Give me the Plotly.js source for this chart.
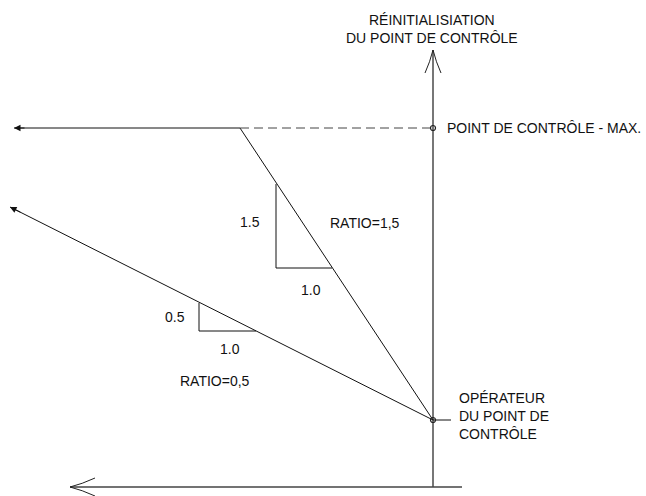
<!DOCTYPE html>
<html><head><meta charset="utf-8">
<script src="https://cdn.plot.ly/plotly-3.0.1.min.js"></script>
<style>html,body{margin:0;padding:0;background:#fff}</style>
</head><body>
<div id="chart" style="width:646px;height:496px"></div>
<script>
// Diagram coordinates: origin = "opérateur du point de contrôle", y up
const steepX = [0, -193],  steepY = [0, 292];      // RATIO=1,5
const flatX = [-193, -419], flatY = [292, 292];    // max level continuation
const dashX = [-193, 0],   dashY = [292, 292];     // dashed max level
const shallowX = [0, -423], shallowY = [0, 213];   // RATIO=0,5
const tri15X = [-157, -157, -101], tri15Y = [236, 152, 152];
const tri05X = [-234, -234, -177], tri05Y = [117, 89, 89];
const vAxisX = [0, 0], vAxisY = [-67, 370];
const hAxisX = [29, -363], hAxisY = [-67, -67];
const pointsX = [0, 0], pointsY = [0, 292];
const tickX = [0, 18], tickY = [0, 0];

const labels = [
  {x: -1, y: 391, text: 'RÉINITIALISIATION<br>DU POINT DE CONTRÔLE', xanchor: 'center'},
  {x: 12, y: 292, text: 'POINT DE CONTRÔLE - MAX.', xanchor: 'left'},
  {x: -183, y: 198, text: '1.5', xanchor: 'center'},
  {x: -122, y: 130, text: '1.0', xanchor: 'center'},
  {x: -105, y: 197, text: 'RATIO=1,5', xanchor: 'left'},
  {x: -258, y: 103, text: '0.5', xanchor: 'center'},
  {x: -203, y: 71, text: '1.0', xanchor: 'center'},
  {x: -255, y: 39, text: 'RATIO=0,5', xanchor: 'left'},
  {x: 24, y: 4, text: 'OPÉRATEUR<br>DU POINT DE<br>CONTRÔLE', xanchor: 'left'}
];

const blk = {color: '#111', width: 1};
function ln(x, y, line, extra) {
  return Object.assign({type: 'scatter', mode: 'lines', x: x, y: y, line: line, hoverinfo: 'skip', showlegend: false}, extra || {});
}
const traces = [
  ln(vAxisX, vAxisY, {color: '#777', width: 2}),
  ln(hAxisX, hAxisY, {color: '#444', width: 1.5}),
  ln(steepX, steepY, blk),
  ln(flatX, flatY, blk),
  ln(dashX, dashY, {color: '#444', width: 1, dash: '9px,5px'}),
  ln(shallowX, shallowY, blk),
  ln(tri15X, tri15Y, blk),
  ln(tri05X, tri05Y, blk),
  ln(tickX, tickY, blk),
  {type: 'scatter', mode: 'markers', x: pointsX, y: pointsY, hoverinfo: 'skip', showlegend: false,
   marker: {symbol: 'circle-open', size: 5, color: '#222', line: {width: 1.2, color: '#222'}}}
];

// open curved arrowheads at axis tips
const vt = {x: vAxisX[1], y: vAxisY[1]};
const ht = {x: hAxisX[1], y: hAxisY[1]};
const shapes = [
  {type: 'path', xref: 'x', yref: 'y', line: {color: '#222', width: 1},
   path: `M ${vt.x-8},${vt.y-23} Q ${vt.x-3},${vt.y-12} ${vt.x},${vt.y} Q ${vt.x+3},${vt.y-12} ${vt.x+8},${vt.y-23}`},
  {type: 'path', xref: 'x', yref: 'y', line: {color: '#222', width: 1},
   path: `M ${ht.x+25},${ht.y+9} Q ${ht.x+12},${ht.y+3} ${ht.x},${ht.y} Q ${ht.x+12},${ht.y-3} ${ht.x+25},${ht.y-9}`}
];

const annotations = labels.map(l => ({
  x: l.x, y: l.y, xref: 'x', yref: 'y', text: l.text, showarrow: false,
  xanchor: l.xanchor, yanchor: 'middle', align: l.xanchor === 'left' ? 'left' : 'center',
  font: {family: 'Liberation Sans, Arial, sans-serif', size: 14, color: '#111'}
}));
// small filled arrowheads at left ends
annotations.push({x: flatX[1], y: flatY[1], ax: flatX[1] + 12, ay: flatY[1], xref: 'x', yref: 'y', axref: 'x', ayref: 'y',
  text: '', showarrow: true, arrowhead: 2, arrowsize: 1.3, arrowwidth: 1, arrowcolor: '#111'});
annotations.push({x: shallowX[1], y: shallowY[1], ax: shallowX[1] + 12, ay: shallowY[1] - 6, xref: 'x', yref: 'y', axref: 'x', ayref: 'y',
  text: '', showarrow: true, arrowhead: 2, arrowsize: 1.3, arrowwidth: 1, arrowcolor: '#111'});

const layout = {
  width: 646, height: 496,
  margin: {l: 0, r: 0, t: 0, b: 0},
  paper_bgcolor: '#fff', plot_bgcolor: '#fff',
  xaxis: {range: [-433, 213], visible: false, fixedrange: true},
  yaxis: {range: [-76, 420], visible: false, fixedrange: true},
  shapes: shapes, annotations: annotations, showlegend: false
};
Plotly.newPlot('chart', traces, layout, {staticPlot: true});
</script>
</body></html>
